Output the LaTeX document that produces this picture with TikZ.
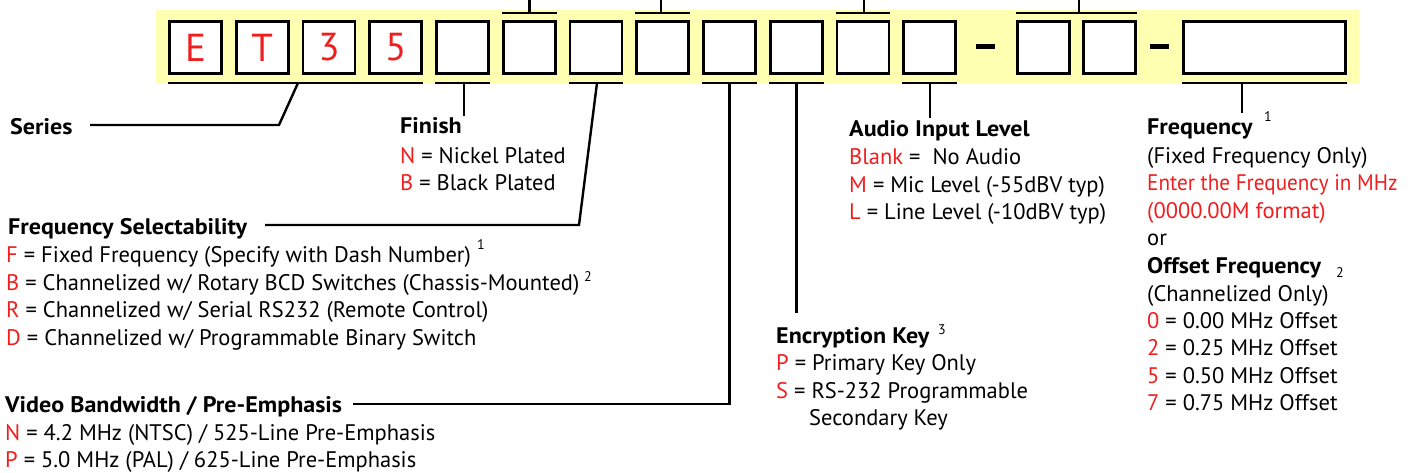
\documentclass[tikz,border=0pt]{standalone}
\usepackage{fontspec}
\usepackage{graphicx}
\setmainfont{PT Sans}
\definecolor{codered}{RGB}{240,30,30}
\definecolor{bandyellow}{RGB}{255,255,178}
\newcommand\itm[2]{\textcolor{codered}{#1} = #2}
\newcommand\hdtext[1]{\scalebox{1.07}[1]{\bfseries #1}}
\begin{document}
\begin{tikzpicture}[x=1pt,y=-1pt,
  box/.style={draw=black,line width=2.8pt,fill=white,minimum width=52pt,minimum height=52pt,inner sep=0pt,font=\fontsize{39}{39}\selectfont,text=codered},
  dashbar/.style={fill=black,minimum width=19pt,minimum height=5pt,inner sep=0pt},
  bar/.style={line width=2.6pt},
  conn/.style={line width=2.4pt},
  txt/.style={anchor=base west,inner sep=0pt,font=\fontsize{22.5}{26}\selectfont},
  hd/.style={txt},
  sup/.style={inner sep=0pt,font=\fontsize{14}{16}\selectfont}]
\useasboundingbox (0,0) rectangle (1414,472);
\fill[bandyellow] (156,10) rectangle (1359,83);
% boxes
\node[box] (b1) at (195.5,47.5) {E};
\node[box] (b2) at (262.3,47.5) {T};
\node[box] (b3) at (329.0,47.5) {3};
\node[box] (b4) at (395.8,47.5) {5};
\node[box] (b5) at (462.5,47.5) {};
\node[box] (b6) at (529.3,47.5) {};
\node[box] (b7) at (596.0,47.5) {};
\node[box] (b8) at (662.8,47.5) {};
\node[box] (b9) at (729.5,47.5) {};
\node[box] (b10) at (796.3,47.5) {};
\node[box] (b11) at (863.0,47.5) {};
\node[box] (b12) at (929.8,47.5) {};
\node[box] (b13) at (1043.5,47.5) {};
\node[box] (b14) at (1109.5,47.5) {};
\node[box,minimum width=162pt] (b15) at (1264.5,47.5) {};
\node[dashbar] (d1) at (985,46) {};
\node[dashbar] (d2) at (1159.5,46) {};
% bars below
\draw[bar] (b1.south west |- 0,83) -- (b4.south east |- 0,83);
\draw[bar] (b5.south west |- 0,83) -- (b5.south east |- 0,83);
\draw[bar] (b7.south west |- 0,83) -- (b7.south east |- 0,83);
\draw[bar] (b9.south west |- 0,83) -- (b9.south east |- 0,83);
\draw[bar] (b10.south west |- 0,83) -- (b10.south east |- 0,83);
\draw[bar] (b12.south west |- 0,83) -- (b12.south east |- 0,83);
\draw[bar] (b15.south west |- 0,83) -- (b15.south east |- 0,83);
% bars above
\draw[bar] (b6.north west |- 0,13) -- (b6.north east |- 0,13);
\draw[bar] (b8.north west |- 0,13) -- (b8.north east |- 0,13);
\draw[bar] (b11.north west |- 0,13) -- (b11.north east |- 0,13);
\draw[bar] (b13.north west |- 0,13) -- (b14.north east |- 0,13);
\coordinate (t6) at (b6.north |- 0,0);
\coordinate (t8) at (661,0);
\coordinate (t11) at (864,0);
\coordinate (t13) at (1079,0);
\draw[conn] (b6.north |- 0,13) -- (t6);
\draw[conn] (661,13) -- (t8);
\draw[conn] (864,13) -- (t11);
\draw[conn] (1079,13) -- (t13);
% texts
\node[hd] (series) at (10,134) {\hdtext{Series}};
\node[hd] (finish) at (400,133) {\hdtext{Finish}};
\node[txt] (fin1) at (400,163) {\itm{N}{Nickel Plated}};
\node[txt] (fin2) at (400,190) {\itm{B}{Black Plated}};
\node[hd] (fsel) at (8,234) {\hdtext{Frequency Selectability}};
\node[txt] (fs1) at (6,262) {\itm{F}{Fixed Frequency (Specify with Dash Number)}};
\node[txt] (fs2) at (6,290) {\itm{B}{Channelized w/ Rotary BCD Switches (Chassis-Mounted)}};
\node[txt] (fs3) at (6,317) {\itm{R}{Channelized w/ Serial RS232 (Remote Control)}};
\node[txt] (fs4) at (6,345) {\itm{D}{Channelized w/ Programmable Binary Switch}};
\node[sup] (fsup1) at (481,245) {1};
\node[sup] (fsup2) at (588,277) {2};
\node[hd] (video) at (5,412) {\hdtext{Video Bandwidth / Pre-Emphasis}};
\node[txt] (vid1) at (5,440) {\itm{N}{4.2 MHz (NTSC) / 525-Line Pre-Emphasis}};
\node[txt] (vid2) at (5,467) {\itm{P}{5.0 MHz (PAL) / 625-Line Pre-Emphasis}};
\node[hd] (audio) at (849,136) {\hdtext{Audio Input Level}};
\node[txt] (au1) at (849,164) {\itm{Blank}{\ No Audio}};
\node[txt] (au2) at (849,192) {\itm{M}{Mic Level (-55dBV typ)}};
\node[txt] (au3) at (849,219) {\itm{L}{Line Level (-10dBV typ)}};
\node[hd] (enc) at (776,343) {\hdtext{Encryption Key}};
\node[sup] (esup) at (942,330) {3};
\node[txt] (en1) at (776,370) {\itm{P}{Primary Key Only}};
\node[txt] (en2) at (776,398) {\itm{S}{RS-232 Programmable}};
\node[txt] (en3) at (809,425) {Secondary Key};
\node[hd] (freq) at (1147,134) {\hdtext{Frequency}};
\node[sup] (frsup) at (1268,117) {1};
\node[txt] (fr1) at (1147,163) {(Fixed Frequency Only)};
\node[txt,text=codered] (fr2) at (1147,190) {\scalebox{0.94}[1]{Enter the Frequency in MHz}};
\node[txt,text=codered] (fr3) at (1147,218) {(0000.00M format)};
\node[txt] (fr4) at (1147,245) {or};
\node[hd] (offs) at (1147,273) {\hdtext{Offset Frequency}};
\node[sup] (ofsub) at (1340,273) {2};
\node[txt] (of1) at (1147,301) {(Channelized Only)};
\node[txt] (of2) at (1147,328) {\itm{0}{0.00 MHz Offset}};
\node[txt] (of3) at (1147,355) {\itm{2}{0.25 MHz Offset}};
\node[txt] (of4) at (1147,383) {\itm{5}{0.50 MHz Offset}};
\node[txt] (of5) at (1147,410) {\itm{7}{0.75 MHz Offset}};
% connectors
\coordinate (serend) at (90,125);
\coordinate (fselend) at (265,225);
\coordinate (vidend) at (353,404);
\draw[conn] (298,83) -- (279,125) -- (serend);
\draw[conn] (464,83) -- (464,116);
\draw[conn] (597,83) -- (579,225) -- (fselend);
\draw[conn] (b9.south |- 0,83) -- (b9.south |- 0,404) -- (vidend);
\draw[conn] (b10.south |- 0,83) -- (b10.south |- 0,313);
\draw[conn] (930,83) -- (930,118);
\draw[conn] (1242,83) -- (1242,113);
\end{tikzpicture}
\end{document}
